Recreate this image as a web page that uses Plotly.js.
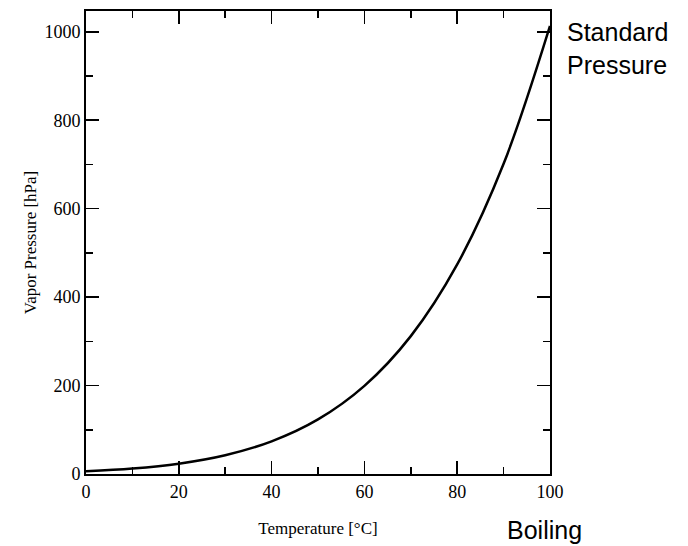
<!DOCTYPE html>
<html>
<head>
<meta charset="utf-8">
<script src="https://cdn.plot.ly/plotly-3.0.1.min.js"></script>
<style>html,body{margin:0;padding:0;background:#fff;}#chart{width:688px;height:546px;}</style>
</head>
<body>
<div id="chart"></div>
<script>
const temperatureC = [0, 10, 20, 30, 40, 50, 60, 70, 80, 90, 100];
const vaporPressureHPa = [6.1, 12.3, 23.4, 42.4, 73.8, 123.4, 199.3, 311.8, 473.9, 701.4, 1013.3];
const xTicks = [0, 20, 40, 60, 80, 100];
const yTicks = [0, 200, 400, 600, 800, 1000];

const serif = 'Liberation Serif, Times New Roman, serif';
const sans = 'Liberation Sans, Arial, sans-serif';

const axisCommon = {
  showgrid: false, zeroline: false, showline: true, linecolor: '#000', linewidth: 2,
  mirror: 'allticks', ticks: 'inside', ticklen: 13, tickwidth: 1.5, tickcolor: '#000',
  tickfont: {family: serif, size: 18, color: '#000'},
  minor: {ticks: 'inside', ticklen: 7, tickwidth: 1.5, tickcolor: '#000'}
};

const trace = {
  x: temperatureC, y: vaporPressureHPa, type: 'scatter', mode: 'lines',
  line: {color: '#000', width: 2.5, shape: 'spline', smoothing: 1}, hoverinfo: 'skip'
};

const layout = {
  width: 688, height: 546,
  margin: {l: 86, r: 138, t: 11, b: 72},
  paper_bgcolor: '#fff', plot_bgcolor: '#fff', showlegend: false,
  xaxis: Object.assign({}, axisCommon, {
    range: [0, 100], tickvals: xTicks, ticktext: xTicks.map(String),
    minor: Object.assign({}, axisCommon.minor, {dtick: 10, tick0: 0}),
    title: {text: 'Temperature [°C]', font: {family: serif, size: 17, color: '#000'}, standoff: 22}
  }),
  yaxis: Object.assign({}, axisCommon, {
    range: [0, 1047], tickvals: yTicks, ticktext: yTicks.map(String),
    minor: Object.assign({}, axisCommon.minor, {dtick: 100, tick0: 0}),
    title: {text: 'Vapor Pressure [hPa]', font: {family: serif, size: 17, color: '#000'}, standoff: 3}
  }),
  annotations: [
    {xref: 'paper', yref: 'paper', x: 1.032, y: 0.92, xanchor: 'left', yanchor: 'middle', align: 'left',
     showarrow: false, text: 'Standard<br>Pressure', font: {family: sans, size: 25, color: '#000'}},
    {xref: 'paper', yref: 'paper', x: 0.988, y: -0.122, xanchor: 'center', yanchor: 'middle',
     showarrow: false, text: 'Boiling', font: {family: sans, size: 25, color: '#000'}}
  ]
};

Plotly.newPlot('chart', [trace], layout, {displayModeBar: false, staticPlot: true});
</script>
</body>
</html>
